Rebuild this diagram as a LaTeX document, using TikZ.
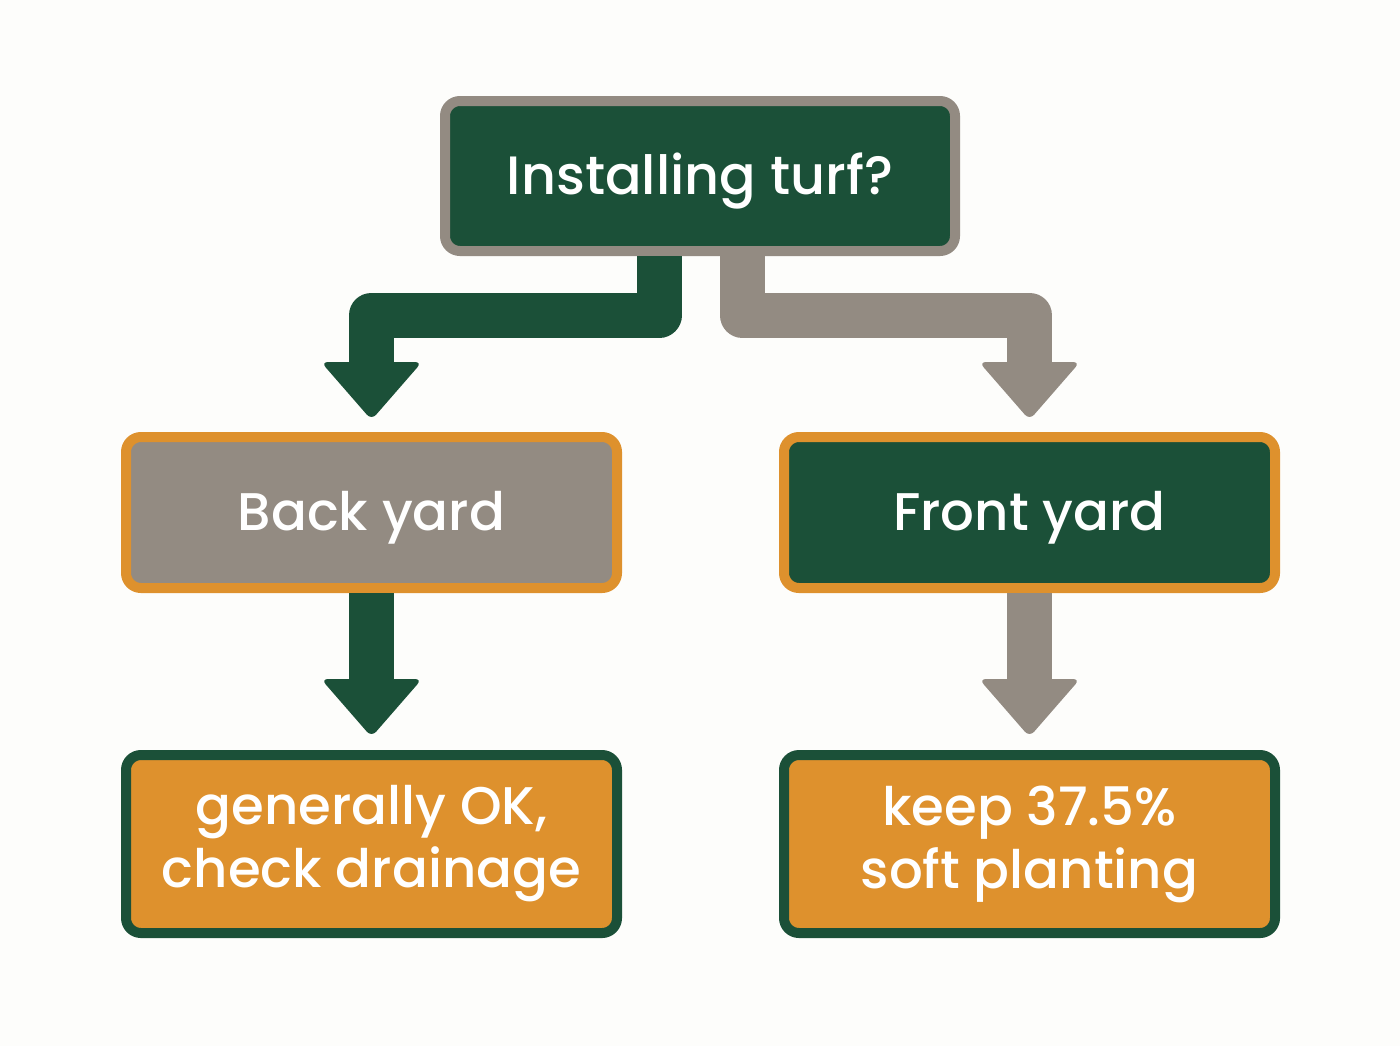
\documentclass[tikz,border=0pt]{standalone}
\usepackage{fontspec}
\setmainfont{Poppins Medium}
\usetikzlibrary{calc}
\definecolor{dgreen}{HTML}{1B5038}
\definecolor{warmgray}{HTML}{938B82}
\definecolor{amber}{HTML}{DE912D}
\definecolor{paper}{HTML}{FDFDFB}
\begin{document}
\begin{tikzpicture}[x=0.5pt,y=-0.5pt,
  box/.style={rounded corners=7.5pt, line width=5pt, text=white, align=center, inner sep=0pt},
  topbox/.style={box, minimum width=255pt, minimum height=75pt, text depth=2pt,
    font=\fontsize{27pt}{32pt}\selectfont},
  midbox/.style={box, minimum width=245.5pt, minimum height=75.5pt, text depth=2pt,
    font=\fontsize{26.5pt}{32pt}\selectfont},
  lowbox/.style={box, minimum width=245.5pt, minimum height=89pt,
    font=\fontsize{26.5pt}{31.5pt}\selectfont},
  shaft/.style={line width=22.5pt, line join=round, line cap=butt},
  head/.style={rounded corners=3.5pt}
]
\fill[paper] (0,0) rectangle (1400,1046);
\useasboundingbox (0,0) rectangle (1400,1046);

\node[topbox, fill=dgreen, draw=warmgray] (top) at (700,176) {Installing turf?};
\node[midbox, fill=warmgray, draw=amber] (back) at (371.5,512.5) {Back yard};
\node[midbox, fill=dgreen, draw=amber] (front) at (1029.5,512.5) {Front yard};
\node[lowbox, fill=amber, draw=dgreen] (backres) at (371.5,844) {generally OK,\\check drainage};
\node[lowbox, fill=amber, draw=dgreen] (frontres) at (1029.5,844) {keep 37.5\%\\soft planting};

% top -> back yard
\coordinate (l1) at ($(top.south)+(-40.5,0)$);
\coordinate (l2) at ($(back.north)+(0,-64)$);
\draw[shaft, dgreen] (l1) -- (l1 |- 0,315) -- (l2 |- 0,315) -- (l2);
\fill[head, dgreen] ($(back.north)+(-50.5,-70)$) -- ($(back.north)+(50.5,-70)$) -- ($(back.north)+(0,-12)$) -- cycle;

% top -> front yard
\coordinate (r1) at ($(top.south)+(42,0)$);
\coordinate (r2) at ($(front.north)+(0,-64)$);
\draw[shaft, warmgray] (r1) -- (r1 |- 0,315) -- (r2 |- 0,315) -- (r2);
\fill[head, warmgray] ($(front.north)+(-50.5,-70)$) -- ($(front.north)+(50.5,-70)$) -- ($(front.north)+(0,-12)$) -- cycle;

% back yard -> result
\coordinate (b2) at ($(backres.north)+(0,-65)$);
\draw[shaft, dgreen] (back.south) -- (b2);
\fill[head, dgreen] ($(backres.north)+(-50.5,-71)$) -- ($(backres.north)+(50.5,-71)$) -- ($(backres.north)+(0,-13)$) -- cycle;

% front yard -> result
\coordinate (f2) at ($(frontres.north)+(0,-65)$);
\draw[shaft, warmgray] (front.south) -- (f2);
\fill[head, warmgray] ($(frontres.north)+(-50.5,-71)$) -- ($(frontres.north)+(50.5,-71)$) -- ($(frontres.north)+(0,-13)$) -- cycle;
\end{tikzpicture}
\end{document}
